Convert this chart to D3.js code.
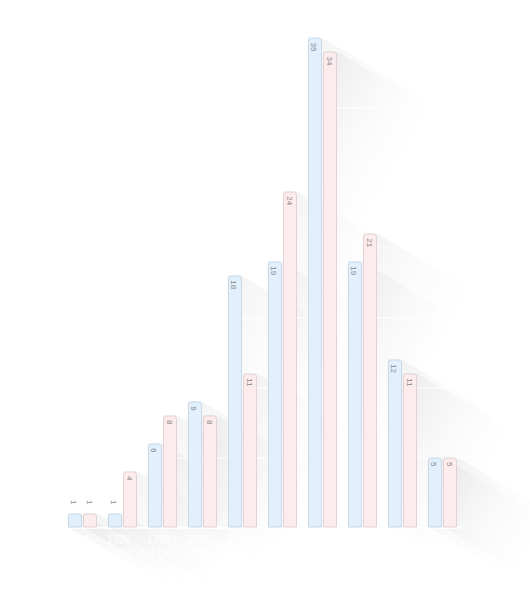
<!DOCTYPE html>
<html>
<head>
<meta charset="utf-8">
<script src="https://cdn.jsdelivr.net/npm/d3@7"></script>
<style>
  body { margin: 0; background: #fff; }
  svg text { font-family: "Liberation Sans", Arial, sans-serif; }
</style>
</head>
<body>
<div id="chart"></div>
<script>
// periods (25 year bins)
var periodStart = ["1711", "1736", "1761", "1786", "1811", "1836", "1861", "1886", "1911", "1936"];
var periodEnd   = ["1735", "1760", "1785", "1810", "1835", "1860", "1885", "1910", "1935", "1960"];
var seriesA = [1, 1, 6, 9, 18, 19, 35, 19, 12, 5];   // blue
var seriesB = [1, 4, 8, 8, 11, 24, 34, 21, 11, 5];   // pink
var yTicks = [0, 5, 10, 15, 20, 25, 30, 35];

var width = 530, height = 601;
var margin = {top: 37.5, right: 68, bottom: 74, left: 62};
var innerW = width - margin.left - margin.right,
    innerH = height - margin.top - margin.bottom;

var svg = d3.select("#chart").append("svg")
    .attr("width", width)
    .attr("height", height);
var defs = svg.append("defs");
var g = svg.append("g")
    .attr("transform", "translate(" + margin.left + "," + margin.top + ")");

var x = d3.scaleBand().domain(d3.range(periodStart.length)).range([0, innerW]);
var xs = d3.scaleBand().domain([0, 1]).range([5.5, x.bandwidth() - 5.5]).paddingInner(0.12);
var y = d3.scaleLinear().domain([0, 35]).range([innerH, 0]);

var styles = [
  {fill: "#e1f0fc", stroke: "#c9d9e6", data: seriesA},
  {fill: "#fdecee", stroke: "#e2d2d5", data: seriesB}
];

var bars = [];
styles.forEach(function (s, si) {
  s.data.forEach(function (v, i) {
    bars.push({i: i, s: si, v: v, st: s});
  });
});

// long shadows, cast down-right at 30 degrees
var L = 115, vx = L * Math.cos(Math.PI / 6), vy = L * Math.sin(Math.PI / 6);
var shadowG = g.append("g");
bars.forEach(function (b, k) {
  var x0 = x(b.i) + xs(b.s), x1 = x0 + xs.bandwidth();
  var y0 = y(b.v), y1 = y(0);
  var gid = "sh" + k;
  var grad = defs.append("linearGradient").attr("id", gid)
      .attr("gradientUnits", "userSpaceOnUse")
      .attr("x1", x1).attr("y1", y0)
      .attr("x2", x1 + vx).attr("y2", y0 + vy);
  grad.append("stop").attr("offset", 0).attr("stop-color", "#000").attr("stop-opacity", 0.042);
  grad.append("stop").attr("offset", 0.5).attr("stop-color", "#000").attr("stop-opacity", 0.014);
  grad.append("stop").attr("offset", 1).attr("stop-color", "#000").attr("stop-opacity", 0);
  var pts = [[x0, y0], [x1, y0], [x1 + vx, y0 + vy], [x1 + vx, y1 + vy], [x0 + vx, y1 + vy], [x0, y1]];
  shadowG.append("path")
    .attr("d", "M" + pts.join("L") + "Z")
    .attr("fill", "url(#" + gid + ")");
});

// grid
g.append("g").selectAll("line").data(yTicks).join("line")
  .attr("x1", 0).attr("x2", innerW)
  .attr("y1", function (d) { return Math.round(y(d)) + 0.5; })
  .attr("y2", function (d) { return Math.round(y(d)) + 0.5; })
  .attr("stroke", "#fff").attr("stroke-width", 1);

// x axis (white labels)
var xAxis = g.append("g").attr("transform", "translate(0," + innerH + ")");
xAxis.append("line").attr("x1", 0).attr("x2", innerW).attr("y1", 0.5).attr("y2", 0.5)
  .attr("stroke", "#fff").attr("stroke-width", 2);
var lbl = xAxis.selectAll("text").data(periodStart).join("text")
  .attr("x", function (d, i) { return x(i) + x.bandwidth() / 2; })
  .attr("y", 16)
  .attr("text-anchor", "middle")
  .attr("fill", "#fff")
  .attr("font-size", 11);
lbl.append("tspan").text(function (d) { return d + " -"; });
lbl.append("tspan")
  .attr("x", function (d, i) { return x(i) + x.bandwidth() / 2; })
  .attr("dy", 14)
  .text(function (d, i) { return periodEnd[i]; });

// bars with rounded top
function barPath(x0, w, top, bottom, r) {
  return "M" + x0 + "," + bottom + "V" + (top + r) +
    "Q" + x0 + "," + top + " " + (x0 + r) + "," + top +
    "H" + (x0 + w - r) +
    "Q" + (x0 + w) + "," + top + " " + (x0 + w) + "," + (top + r) +
    "V" + bottom + "Z";
}
g.append("g").selectAll("path").data(bars).join("path")
  .attr("d", function (b) {
    var x0 = Math.round(x(b.i) + xs(b.s)) + 0.5;
    return barPath(x0, Math.round(xs.bandwidth()) - 1, Math.round(y(b.v)) + 0.5, y(0), 3);
  })
  .attr("fill", function (b) { return b.st.fill; })
  .attr("stroke", function (b) { return b.st.stroke; })
  .attr("stroke-width", 1);

// value labels, rotated
g.append("g").selectAll("text").data(bars).join("text")
  .attr("transform", function (b) {
    var cx = x(b.i) + xs(b.s) + xs.bandwidth() / 2;
    var inside = (y(0) - y(b.v)) >= 20;
    var ty = inside ? y(b.v) + 5 : y(b.v) - 13;
    return "translate(" + (cx - 3) + "," + ty + ") rotate(90)";
  })
  .attr("font-size", 8)
  .attr("fill", "#888")
  .text(function (b) { return b.v; });
</script>
</body>
</html>
